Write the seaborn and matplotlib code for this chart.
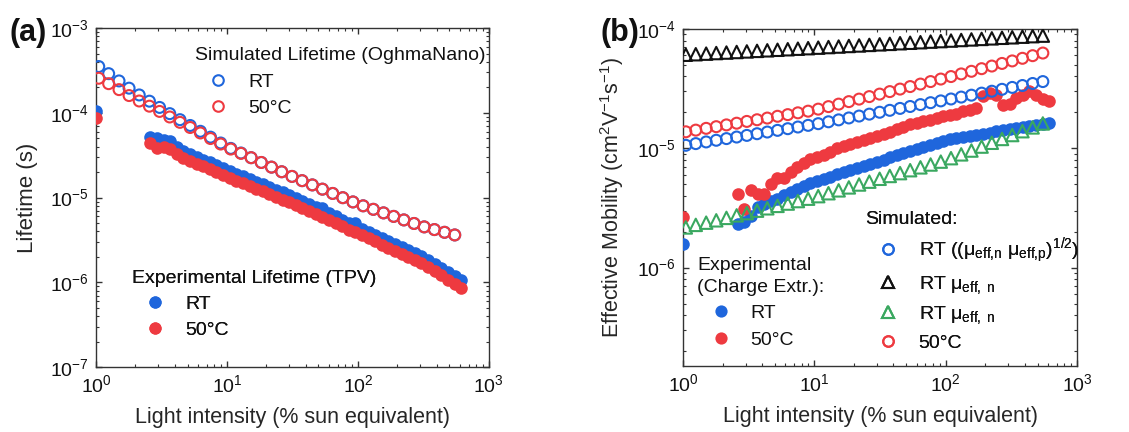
import numpy as np
import pandas as pd
import matplotlib
matplotlib.use("Agg")
import matplotlib.pyplot as plt
from matplotlib.lines import Line2D
from matplotlib.ticker import LogLocator, NullFormatter
import seaborn as sns

# ---------------- data ----------------
# light intensity grid of the drift-diffusion simulations (% sun)
sim_intensity = [1.05, 1.25, 1.50, 1.79, 2.14, 2.56, 3.06, 3.66, 4.38, 5.24,
                 6.27, 7.49, 8.96, 10.7, 12.8, 15.3, 18.3, 21.9, 26.2, 31.4,
                 37.5, 44.9, 53.6, 64.2, 76.7, 91.7, 109.7, 131.2, 156.9, 187.6,
                 224.4, 268.3, 320.9, 383.8, 458.9, 548.8]

# light intensity steps of the measurements (% sun)
exp_intensity = [1.0, 2.60, 2.92, 3.28, 3.69, 4.14, 4.65, 5.22, 5.87, 6.59,
                 7.41, 8.32, 9.34, 10.5, 11.8, 13.2, 14.9, 16.7, 18.8, 21.1,
                 23.7, 26.6, 29.9, 33.6, 37.7, 42.4, 47.6, 53.5, 60.1, 67.5,
                 75.8, 85.1, 95.6, 107.4, 120.6, 135.5, 152.2, 171.0, 192.1, 215.8,
                 242.4, 272.3, 305.9, 343.6, 385.9, 433.5, 487.0, 547.0, 614.5]

# (a) carrier lifetime (s)
tau_sim_rt = [3.52e-4, 2.90e-4, 2.38e-4, 1.955e-4, 1.626e-4, 1.373e-4, 1.159e-4, 9.79e-5,
              8.31e-5, 7.10e-5, 6.06e-5, 5.17e-5, 4.41e-5, 3.81e-5, 3.36e-5, 2.96e-5,
              2.60e-5, 2.29e-5, 2.02e-5, 1.78e-5, 1.586e-5, 1.413e-5, 1.259e-5, 1.121e-5,
              9.99e-6, 8.90e-6, 8.01e-6, 7.28e-6, 6.61e-6, 6.01e-6, 5.46e-6, 4.96e-6,
              4.52e-6, 4.20e-6, 3.90e-6, 3.63e-6]
tau_sim_50 = [2.56e-4, 2.21e-4, 1.88e-4, 1.60e-4, 1.38e-4, 1.199e-4, 1.04e-4, 8.94e-5,
              7.73e-5, 6.72e-5, 5.79e-5, 4.98e-5, 4.29e-5, 3.74e-5, 3.33e-5, 2.96e-5,
              2.60e-5, 2.29e-5, 2.02e-5, 1.78e-5, 1.586e-5, 1.413e-5, 1.259e-5, 1.121e-5,
              9.99e-6, 8.90e-6, 8.01e-6, 7.28e-6, 6.61e-6, 6.01e-6, 5.46e-6, 4.96e-6,
              4.52e-6, 4.20e-6, 3.90e-6, 3.63e-6]
tau_exp_rt = [1.05e-4, 5.25e-5, 5.01e-5, 4.73e-5, 4.62e-5, 3.98e-5, 3.55e-5, 3.28e-5,
              3.03e-5, 2.81e-5, 2.60e-5, 2.40e-5, 2.22e-5, 2.06e-5, 1.91e-5, 1.78e-5,
              1.66e-5, 1.54e-5, 1.43e-5, 1.33e-5, 1.23e-5, 1.15e-5, 1.06e-5, 9.86e-6,
              9.08e-6, 8.36e-6, 7.69e-6, 7.59e-6, 6.52e-6, 6.00e-6, 5.52e-6, 5.09e-6,
              5.01e-6, 4.32e-6, 3.97e-6, 3.66e-6, 3.37e-6, 3.10e-6, 2.86e-6, 2.64e-6,
              2.43e-6, 2.23e-6, 2.06e-6, 1.86e-6, 1.66e-6, 1.49e-6, 1.33e-6, 1.19e-6,
              1.07e-6]
tau_exp_50 = [8.7e-5, 4.45e-5, 3.9e-5, 4.0e-5, 3.75e-5, 3.30e-5, 2.95e-5, 2.72e-5,
              2.51e-5, 2.33e-5, 2.16e-5, 1.99e-5, 1.84e-5, 1.71e-5, 1.59e-5, 1.48e-5,
              1.38e-5, 1.28e-5, 1.19e-5, 1.10e-5, 1.02e-5, 9.5e-6, 8.8e-6, 8.2e-6,
              7.5e-6, 6.9e-6, 6.4e-6, 5.9e-6, 5.4e-6, 5.0e-6, 4.6e-6, 4.2e-6,
              3.9e-6, 3.6e-6, 3.3e-6, 3.04e-6, 2.80e-6, 2.57e-6, 2.37e-6, 2.19e-6,
              2.02e-6, 1.85e-6, 1.71e-6, 1.53e-6, 1.36e-6, 1.21e-6, 1.07e-6, 9.6e-7,
              8.6e-7]

# (b) effective mobility (cm^2 V^-1 s^-1)
mu_sim_geo_rt = [1.059e-5, 1.094e-5, 1.130e-5, 1.167e-5, 1.205e-5, 1.242e-5, 1.282e-5, 1.324e-5,
                 1.368e-5, 1.413e-5, 1.459e-5, 1.507e-5, 1.556e-5, 1.607e-5, 1.667e-5, 1.730e-5,
                 1.795e-5, 1.862e-5, 1.932e-5, 2.004e-5, 2.080e-5, 2.158e-5, 2.239e-5, 2.323e-5,
                 2.410e-5, 2.495e-5, 2.588e-5, 2.685e-5, 2.786e-5, 2.897e-5, 3.006e-5, 3.119e-5,
                 3.236e-5, 3.357e-5, 3.491e-5, 3.622e-5]
mu_sim_n_rt = [6.08e-5, 6.14e-5, 6.21e-5, 6.28e-5, 6.34e-5, 6.41e-5, 6.48e-5, 6.55e-5,
               6.62e-5, 6.69e-5, 6.76e-5, 6.83e-5, 6.90e-5, 6.97e-5, 7.05e-5, 7.12e-5,
               7.20e-5, 7.27e-5, 7.35e-5, 7.43e-5, 7.50e-5, 7.59e-5, 7.66e-5, 7.74e-5,
               7.83e-5, 7.91e-5, 7.99e-5, 8.08e-5, 8.17e-5, 8.25e-5, 8.34e-5, 8.43e-5,
               8.51e-5, 8.61e-5, 8.70e-5, 8.79e-5]
mu_sim_p_rt = [2.17e-6, 2.28e-6, 2.38e-6, 2.49e-6, 2.61e-6, 2.74e-6, 2.86e-6, 3.00e-6,
               3.14e-6, 3.29e-6, 3.44e-6, 3.61e-6, 3.78e-6, 3.97e-6, 4.20e-6, 4.44e-6,
               4.70e-6, 4.97e-6, 5.25e-6, 5.55e-6, 5.86e-6, 6.19e-6, 6.55e-6, 6.92e-6,
               7.31e-6, 7.73e-6, 8.26e-6, 8.89e-6, 9.57e-6, 1.033e-5, 1.112e-5, 1.197e-5,
               1.291e-5, 1.390e-5, 1.496e-5, 1.614e-5]
mu_sim_50 = [1.374e-5, 1.419e-5, 1.469e-5, 1.517e-5, 1.570e-5, 1.622e-5, 1.679e-5, 1.734e-5,
             1.791e-5, 1.854e-5, 1.914e-5, 1.982e-5, 2.046e-5, 2.128e-5, 2.234e-5, 2.344e-5,
             2.460e-5, 2.582e-5, 2.710e-5, 2.844e-5, 2.985e-5, 3.133e-5, 3.289e-5, 3.451e-5,
             3.622e-5, 3.802e-5, 3.990e-5, 4.198e-5, 4.416e-5, 4.645e-5, 4.887e-5, 5.140e-5,
             5.395e-5, 5.675e-5, 5.970e-5, 6.281e-5]
mu_exp_rt = [1.57e-6, 2.32e-6, 2.43e-6, 2.69e-6, 3.24e-6, 3.44e-6, 3.61e-6, 3.79e-6,
             4.02e-6, 4.27e-6, 4.52e-6, 4.79e-6, 5.07e-6, 5.33e-6, 5.56e-6, 5.78e-6,
             6.03e-6, 6.27e-6, 6.53e-6, 6.81e-6, 7.08e-6, 7.38e-6, 7.69e-6, 8.02e-6,
             8.38e-6, 8.73e-6, 9.10e-6, 9.46e-6, 9.84e-6, 1.026e-5, 1.069e-5, 1.112e-5,
             1.156e-5, 1.191e-5, 1.216e-5, 1.245e-5, 1.271e-5, 1.297e-5, 1.327e-5, 1.355e-5,
             1.384e-5, 1.413e-5, 1.439e-5, 1.469e-5, 1.496e-5, 1.528e-5, 1.560e-5, 1.589e-5,
             1.622e-5]
mu_exp_50 = [2.64e-6, 4.15e-6, 3.10e-6, 4.43e-6, 4.15e-6, 4.17e-6, 5.01e-6, 5.62e-6,
             5.62e-6, 6.31e-6, 6.92e-6, 7.59e-6, 8.13e-6, 8.51e-6, 8.71e-6, 9.33e-6,
             1.00e-5, 1.047e-5, 1.096e-5, 1.122e-5, 1.175e-5, 1.230e-5, 1.259e-5, 1.318e-5,
             1.380e-5, 1.445e-5, 1.514e-5, 1.585e-5, 1.622e-5, 1.698e-5, 1.738e-5, 1.778e-5,
             1.862e-5, 1.905e-5, 1.950e-5, 2.042e-5, 2.089e-5, 2.188e-5, 2.754e-5, 2.884e-5,
             2.818e-5, 2.291e-5, 2.344e-5, 2.630e-5, 2.818e-5, 3.020e-5, 2.818e-5, 2.570e-5,
             2.512e-5]

# ---------------- style ----------------
BLUE = "#1f66dc"
RED = "#ee3a40"
GREEN = "#3aa860"
BLACK = "#111111"

sns.set_theme(style="ticks")
plt.rcParams["font.family"] = ["Liberation Sans", "DejaVu Sans"]
plt.rcParams.update({
    "mathtext.fontset": "custom",
    "mathtext.rm": "Liberation Sans",
    "mathtext.it": "Liberation Sans:italic",
    "mathtext.bf": "Liberation Sans:bold",
    "mathtext.default": "regular",
    "axes.edgecolor": "#333333",
    "axes.linewidth": 1.0,
    "text.color": "#111111",
})

fig = plt.figure(figsize=(11.29, 4.32), dpi=100)
ax_a = fig.add_axes([0.085, 0.150, 0.348, 0.785])
ax_b = fig.add_axes([0.605, 0.153, 0.349, 0.780])

sim = pd.DataFrame({"I": sim_intensity, "tau_rt": tau_sim_rt, "tau_50": tau_sim_50,
                    "mu_geo": mu_sim_geo_rt, "mu_n": mu_sim_n_rt, "mu_p": mu_sim_p_rt,
                    "mu_50": mu_sim_50})
exp = pd.DataFrame({"I": exp_intensity, "tau_rt": tau_exp_rt, "tau_50": tau_exp_50,
                    "mu_rt": mu_exp_rt, "mu_50": mu_exp_50})

S_OPEN = 62
S_FILL = 82
S_TRI = 80
LW_OPEN = 1.5


def filled(ax, col, color):
    sns.scatterplot(data=exp, x="I", y=col, ax=ax, color=color, s=S_FILL,
                    linewidth=0, marker="o", legend=False, zorder=3)


def hollow(ax, col, color, marker="o", s=S_OPEN):
    sns.scatterplot(data=sim, x="I", y=col, ax=ax, marker=marker, s=s,
                    facecolors="none", edgecolor=color, linewidth=LW_OPEN,
                    legend=False, zorder=4)


# (a) lifetime
filled(ax_a, "tau_rt", BLUE)
filled(ax_a, "tau_50", RED)
hollow(ax_a, "tau_rt", BLUE)
hollow(ax_a, "tau_50", RED)

# (b) mobility
filled(ax_b, "mu_rt", BLUE)
filled(ax_b, "mu_50", RED)
hollow(ax_b, "mu_geo", BLUE)
hollow(ax_b, "mu_n", BLACK, marker="^", s=S_TRI)
hollow(ax_b, "mu_p", GREEN, marker="^", s=S_TRI)
hollow(ax_b, "mu_50", RED)


def style_axes(ax, ylim, ylabel, label_fs, label_xy):
    ax.set_xscale("log")
    ax.set_yscale("log")
    ax.set_xlim(1, 1e3)
    ax.set_ylim(*ylim)
    for axis in (ax.xaxis, ax.yaxis):
        axis.set_major_locator(LogLocator(base=10, numticks=12))
        axis.set_minor_locator(LogLocator(base=10, subs=np.arange(2, 10), numticks=12))
        axis.set_minor_formatter(NullFormatter())
    ax.tick_params(which="both", direction="in", top=True, right=True,
                   colors="#333333", labelcolor="#111111", labelsize=14)
    ax.tick_params(which="major", length=4.5, width=1.0, pad=5)
    ax.tick_params(which="minor", length=2.5, width=0.8)
    ax.set_xlabel("Light intensity (% sun equivalent)", fontsize=15.5, labelpad=8)
    ax.set_ylabel(ylabel, fontsize=label_fs)
    ax.yaxis.set_label_coords(*label_xy)
    for sp in ax.spines.values():
        sp.set_visible(True)


style_axes(ax_a, (1e-7, 1e-3), "Lifetime (s)", 16, (-0.148, 0.5))
style_axes(ax_b, (1.5e-7, 1e-4), r"Effective Mobility (cm$^2$V$^{-1}$s$^{-1}$)",
           15.5, (-0.145, 0.5))


def hollow_handle(color, marker="o", ms=7.6):
    return Line2D([], [], ls="none", marker=marker, ms=ms, mfc="none",
                  mec=color, mew=LW_OPEN)


def filled_handle(color, ms=8.8):
    return Line2D([], [], ls="none", marker="o", ms=ms, mfc=color, mec=color, mew=0)


def add_legend(ax, handles, labels, title, anchor, spacing, fs=14, title_ls=1.2):
    leg = ax.legend(handles, labels, title=title, loc="upper left",
                    bbox_to_anchor=anchor, frameon=False, fontsize=fs,
                    title_fontsize=fs, alignment="left", borderpad=0,
                    borderaxespad=0, handlelength=2.4, handletextpad=0.35,
                    labelspacing=spacing)
    leg.get_title().set_linespacing(title_ls)
    ax.add_artist(leg)
    return leg


add_legend(ax_a, [hollow_handle(BLUE), hollow_handle(RED)], ["RT", "50°C"],
           "Simulated Lifetime (OghmaNano)", (0.252, 0.943), 0.45)
add_legend(ax_a, [filled_handle(BLUE), filled_handle(RED)], ["RT", "50°C"],
           "Experimental Lifetime (TPV)", (0.092, 0.288), 0.45)

add_legend(ax_b, [filled_handle(BLUE), filled_handle(RED)], ["RT", "50°C"],
           "Experimental\n(Charge Extr.):", (0.036, 0.324), 0.45, title_ls=1.4)
add_legend(ax_b,
           [hollow_handle(BLUE), hollow_handle(BLACK, "^", 8.4),
            hollow_handle(GREEN, "^", 8.4), hollow_handle(RED)],
           [r"RT ((μ$_{eff{,}n}$ μ$_{eff{,}p}$)$^{1/2}$)", r"RT μ$_{eff,\ n}$",
            r"RT μ$_{eff,\ n}$", "50°C"],
           "Simulated:", (0.462, 0.460), 0.42)

fig.text(0.008, 0.958, "(a)", fontsize=22, fontweight="bold", va="top", ha="left")
fig.text(0.532, 0.958, "(b)", fontsize=22, fontweight="bold", va="top", ha="left")

fig.savefig("out.png", dpi=100)
